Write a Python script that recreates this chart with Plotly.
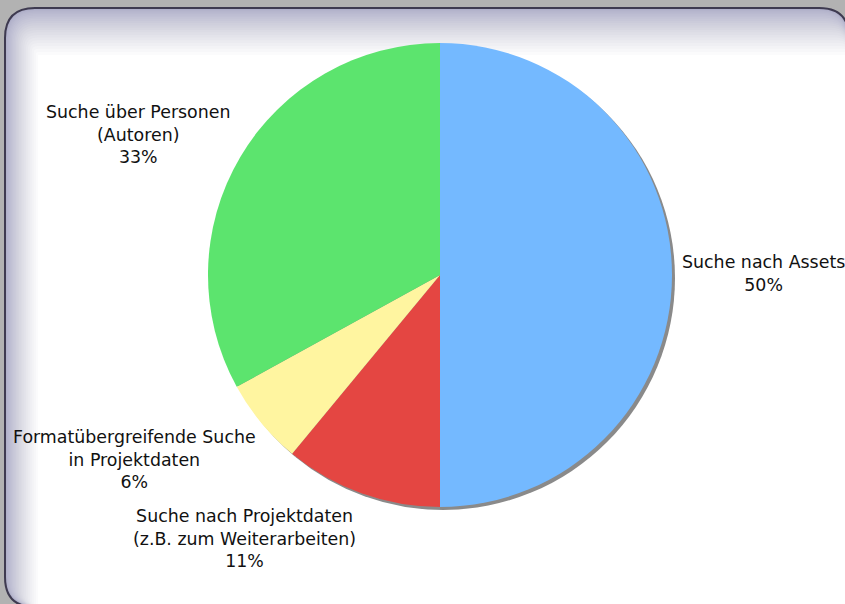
import math
import plotly.graph_objects as go

labels = ["Suche nach Assets", "Suche nach Projektdaten<br>(z.B. zum Weiterarbeiten)",
          "Formatübergreifende Suche<br>in Projektdaten", "Suche über Personen<br>(Autoren)"]
values = [50, 11, 6, 33]
colors = ["#74B9FF", "#E44642", "#FFF5A0", "#5CE46E"]

W, H = 845, 604
cx, cy, r = 440, 275, 232

def dom(dx=0, dy=0):
    return dict(x=[(cx - r + dx) / W, (cx + r + dx) / W],
                y=[1 - (cy + r + dy) / H, 1 - (cy - r + dy) / H])

fig = go.Figure()
fig.add_trace(go.Pie(values=values, labels=labels, domain=dom(3, 3), sort=False,
                     direction="clockwise", rotation=0, textinfo="none", hoverinfo="skip",
                     marker=dict(colors=["#8a8a8a"] * len(values), line=dict(width=0)),
                     showlegend=False))
fig.add_trace(go.Pie(values=values, labels=labels, domain=dom(), sort=False,
                     direction="clockwise", rotation=0, textinfo="none",
                     hovertemplate="%{label}<br>%{percent:.0%}<extra></extra>",
                     marker=dict(colors=colors, line=dict(width=0)),
                     showlegend=False))

# label placement: anchored to the rim point at each slice's mid angle
label_style = [  # (xanchor, yanchor, xshift, yshift)
    ("left", "middle", 8, 1),
    ("right", "top", -3, -11),
    ("right", "top", -3, -2),
    ("right", "bottom", -8, -12),
]
total = sum(values)
cum = 0
annotations = []
for lab, v, (xa, ya, xs, ys) in zip(labels, values, label_style):
    mid = (cum + v / 2) / total * 2 * math.pi
    cum += v
    px = cx + r * math.sin(mid)
    py = cy - r * math.cos(mid)
    annotations.append(dict(x=px / W, y=1 - py / H, xref="paper", yref="paper",
                            text=f"{lab}<br>{round(100 * v / total)}%", showarrow=False,
                            xanchor=xa, yanchor=ya, xshift=xs, yshift=ys, align="center",
                            font=dict(family="DejaVu Sans", size=17.4, color="#111111")))


def rrect(x0, y0, x1, y1, rad):
    pts = (f"M {x0+rad},{y0} L {x1-rad},{y0} Q {x1},{y0} {x1},{y0+rad} "
           f"L {x1},{y1-rad} Q {x1},{y1} {x1-rad},{y1} L {x0+rad},{y1} "
           f"Q {x0},{y1} {x0},{y1-rad} L {x0},{y0+rad} Q {x0},{y0} {x0+rad},{y0} Z")
    out = []
    for tok in pts.split():
        if "," in tok:
            x, y = tok.split(",")
            out.append(f"{float(x)/W:.5f},{1-float(y)/H:.5f}")
        else:
            out.append(tok)
    return " ".join(out)


PX0, PY0, PX1, PY1, RAD = 5, 8, 849, 607, 30
shapes = [dict(type="path", path=rrect(PX0, PY0, PX1, PY1, RAD), xref="paper", yref="paper",
               fillcolor="#aeaec8", line=dict(color="#3e3a50", width=2), layer="below")]
N = 22
for i in range(1, N + 1):
    t = (i / N) ** 1.5
    a = 1.0 / (N - i + 1)
    rad = max(0.0, RAD * (1 - t))
    shapes.append(dict(type="path",
                       path=rrect(PX0 + 1 + t * 32, PY0 + 1 + t * 46, PX1 - 1, PY1 - 1, rad),
                       xref="paper", yref="paper", fillcolor=f"rgba(255,255,255,{a:.3f})",
                       line=dict(width=0), layer="below"))

fig.update_layout(width=W, height=H, margin=dict(l=0, r=0, t=0, b=0),
                  paper_bgcolor="#b2b2b2", plot_bgcolor="#b2b2b2", shapes=shapes,
                  annotations=annotations,
                  font=dict(family="DejaVu Sans", size=17.4, color="#111111"))
fig.write_html("out.html")
